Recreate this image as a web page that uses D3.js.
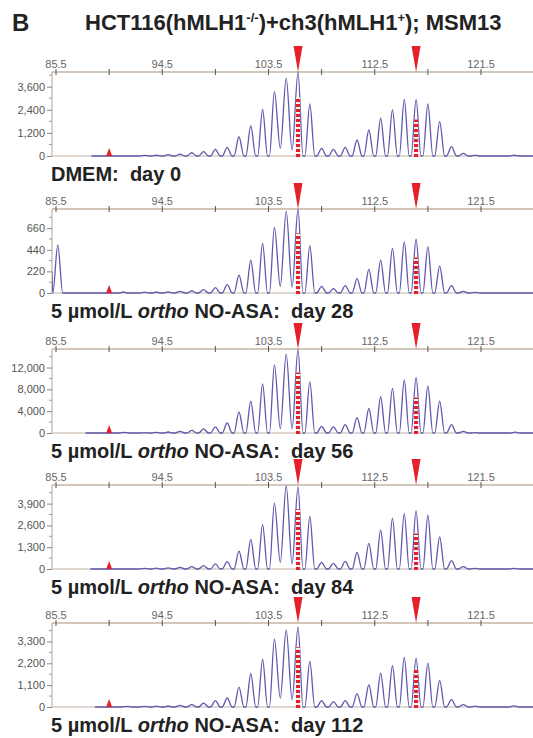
<!DOCTYPE html>
<html>
<head>
<meta charset="utf-8">
<script src="https://cdn.jsdelivr.net/npm/d3@7"></script>
<style>
  body { margin: 0; background: #fff; }
  text { font-family: "Liberation Sans", Arial, sans-serif; white-space: pre; }
</style>
</head>
<body>
<script>
// fragment sizes (bp) of the stutter peaks
var sizes = [93, 94, 95, 96, 97, 98, 99, 100, 101, 102, 103, 104, 105, 106, 107,
             108, 109, 110, 111, 112, 113, 114, 115, 116, 117, 118, 119, 120, 121];

// peak heights (RFU)
var day0   = [30, 40, 70, 100, 170, 225, 345, 450, 1000, 1560, 2420, 3340, 4030, 4350, 2700,
              400, 345, 450, 830, 1350, 1960, 2390, 2940, 2940, 2700, 1780, 485, 140, 50];
var day28  = [8, 10, 12, 17, 22, 34, 55, 85, 181, 335, 506, 667, 831, 855, 482,
              68, 44, 75, 147, 240, 335, 455, 523, 547, 472, 277, 75, 17, 6];
var day56  = [60, 100, 180, 310, 490, 740, 1110, 1850, 3880, 5850, 8980, 12490, 14460, 15380, 9415,
              1230, 1110, 1540, 2830, 4490, 6650, 8185, 9720, 10215, 8615, 5850, 1540, 300, 60];
var day84  = [40, 50, 70, 100, 140, 200, 300, 440, 1070, 1770, 2650, 3930, 4950, 4900, 3130,
              393, 334, 450, 983, 1525, 2317, 3030, 3307, 3465, 3208, 1920, 495, 140, 40];
var day112 = [30, 40, 50, 84, 117, 200, 318, 452, 1005, 1675, 2412, 3417, 3886, 4020, 2295,
              318, 268, 318, 670, 1122, 1708, 2077, 2496, 2462, 2211, 1340, 368, 117, 40];

// valleys that do not reach the baseline (between 104/105 and 105/106)
var dips = [[400, 310], [68, 60], [800, 740], [396, 300], [452, 368]];

// small extra peaks
var minor = [
  [[124.3, 40]],
  [[85.65, 490], [91.2, 10]],
  [[91.3, 110], [124.4, 150]],
  [[124.3, 40]],
  [[91.5, 30], [124.3, 60]]
];

// where each trace begins: [bp, value]
var traceStart = [[88.5, 0], [85.15, 215], [88.0, 0], [88.4, 0], [88.8, 0]];

// allele calls (bp) and their bar heights
var alleles = [106, 116];
var alleleBars = [[3050, 1900], [609, 362], [11080, 6520], [3560, 2120], [3015, 1876]];
var refMarker = 90;

var yMax = [4360, 855, 15400, 5010, 4230];
var yTicks = [
  [0, 1200, 2400, 3600],
  [0, 220, 440, 660],
  [0, 4000, 8000, 12000],
  [0, 1300, 2600, 3900],
  [0, 1100, 2200, 3300]
];
var xTicks = [85.5, 90, 94.5, 99, 103.5, 108, 112.5, 117, 121.5, 126];
var xLabels = [85.5, 94.5, 103.5, 112.5, 121.5];

var titles = ["DMEM:  day 0", "day 28", "day 56", "day 84", "day 112"];
var heights = [day0, day28, day56, day84, day112];

var width = 533, height = 738;
var plotLeft = 52, plotRight = 533;
var panelTop = [72, 209, 349, 485, 623];
var panelH = 84;
var halfW = 0.42;

var axisColor = "#c4b3a3";
var traceColor = "#6058ad";
var red = "#e4202a";

var svg = d3.select("body").append("svg").attr("width", width).attr("height", height);

svg.append("text").attr("x", 12).attr("y", 31)
  .style("font-size", "24px").style("font-weight", "bold").attr("fill", "#222").text("B");

var title = svg.append("text").attr("x", 85).attr("y", 29.5)
  .style("font-size", "22px").style("font-weight", "bold").attr("fill", "#222");
title.append("tspan").text("HCT116(hMLH1");
title.append("tspan").attr("dy", -8).style("font-size", "13px").text("-/-");
title.append("tspan").attr("dy", 8).text(")+ch3(hMLH1");
title.append("tspan").attr("dy", -8).style("font-size", "13px").text("+");
title.append("tspan").attr("dy", 8).text("); MSM13");

var x = d3.scaleLinear().domain([85.5, 121.5]).range([56, 481]);

svg.append("defs").append("clipPath").attr("id", "clip")
  .append("rect").attr("x", plotLeft).attr("y", 0).attr("width", plotRight - plotLeft).attr("height", height);

heights.forEach(function (h, i) {
  var top = panelTop[i], base = top + panelH;
  var y = d3.scaleLinear().domain([0, yMax[i]]).range([base, top]);
  var g = svg.append("g");

  // frame lines
  g.append("line").attr("x1", plotLeft).attr("x2", plotRight).attr("y1", top).attr("y2", top)
    .attr("stroke", axisColor).attr("stroke-width", 1.6);
  g.append("line").attr("x1", plotLeft).attr("x2", plotRight).attr("y1", base).attr("y2", base)
    .attr("stroke", axisColor).attr("stroke-width", 1.2);
  g.append("line").attr("x1", plotLeft).attr("x2", plotLeft).attr("y1", top).attr("y2", base)
    .attr("stroke", axisColor).attr("stroke-width", 1.2);

  // top size axis
  g.selectAll(".xt").data(xTicks).enter().append("line")
    .attr("x1", function (d) { return x(d); }).attr("x2", function (d) { return x(d); })
    .attr("y1", top - 3).attr("y2", top + 3)
    .attr("stroke", "#555").attr("stroke-width", 1);
  g.selectAll(".xl").data(xLabels).enter().append("text")
    .attr("x", function (d) { return x(d); }).attr("y", top - 4)
    .attr("text-anchor", "middle").style("font-size", "11px").attr("fill", "#666")
    .text(function (d) { return d.toFixed(1); });

  // left axis
  var step = yTicks[i][1];
  var minorT = yTicks[i].map(function (d) { return d + step / 2; })
    .filter(function (d) { return d < yMax[i]; });
  var yAxis = d3.axisLeft(y).tickValues(yTicks[i]).tickSize(5).tickPadding(2).tickFormat(d3.format(","));
  var ya = g.append("g").attr("transform", "translate(" + plotLeft + ",0)").call(yAxis);
  ya.select(".domain").remove();
  ya.selectAll("line").attr("stroke", "#888");
  ya.selectAll("text").style("font-size", "11px").attr("fill", "#555")
    .style("font-family", "'Liberation Sans', Arial, sans-serif");
  g.selectAll(".ym").data(minorT).enter().append("line")
    .attr("x1", plotLeft - 3).attr("x2", plotLeft)
    .attr("y1", function (d) { return y(d); }).attr("y2", function (d) { return y(d); })
    .attr("stroke", "#999");

  // trace points: apex of every peak with its base points
  var peaks = sizes.map(function (s, j) { return [s, h[j]]; }).concat(minor[i])
    .sort(function (a, b) { return a[0] - b[0]; });
  var dipAt = {104.5: dips[i][0], 105.5: dips[i][1]};
  var pts = [traceStart[i]];
  peaks.forEach(function (p) {
    if (p[0] <= traceStart[i][0]) return;
    if (dipAt[p[0] - 0.5] === undefined) pts.push([p[0] - halfW, 0]);
    pts.push(p);
    if (dipAt[p[0] + 0.5] !== undefined) pts.push([p[0] + 0.5, dipAt[p[0] + 0.5]]);
    else pts.push([p[0] + halfW, 0]);
  });
  pts.push([127, 0]);
  pts = pts.filter(function (p, k) { return k === 0 || p[0] > pts[k - 1][0]; });

  var line = d3.line().x(function (d) { return x(d[0]); }).y(function (d) { return y(d[1]); })
    .curve(d3.curveMonotoneX);
  g.append("path").attr("d", line(pts)).attr("clip-path", "url(#clip)")
    .attr("fill", "none").attr("stroke", traceColor).attr("stroke-width", 1.3);

  // allele bars
  alleles.forEach(function (a, k) {
    g.append("line").attr("x1", x(a)).attr("x2", x(a)).attr("y1", base + 1).attr("y2", y(alleleBars[i][k]))
      .attr("stroke", "#fff3f0").attr("stroke-width", 4.2);
    g.append("line").attr("x1", x(a)).attr("x2", x(a)).attr("y1", base + 1).attr("y2", y(alleleBars[i][k]))
      .attr("stroke", red).attr("stroke-width", 4.2).attr("stroke-dasharray", "3,2");
    g.append("path")
      .attr("d", "M" + (x(a) - 4.5) + "," + (top - 26) + "L" + (x(a) + 4.5) + "," + (top - 26) + "L" + x(a) + "," + top + "Z")
      .attr("fill", red);
  });

  // reference marker at the baseline
  g.append("path")
    .attr("d", "M" + (x(refMarker) - 3) + "," + base + "L" + (x(refMarker) + 3) + "," + base + "L" + x(refMarker) + "," + (base - 8) + "Z")
    .attr("fill", red);

  // panel caption
  var cap = g.append("text").attr("x", plotLeft - 1).attr("y", base + 25)
    .style("font-size", "20px").style("font-weight", "bold").attr("fill", "#222");
  if (i === 0) {
    cap.text(titles[i]);
  } else {
    cap.append("tspan").text("5 \u00b5mol/L ");
    cap.append("tspan").style("font-style", "italic").text("ortho");
    cap.append("tspan").text(" NO-ASA:  " + titles[i]);
  }
});
</script>
</body>
</html>
